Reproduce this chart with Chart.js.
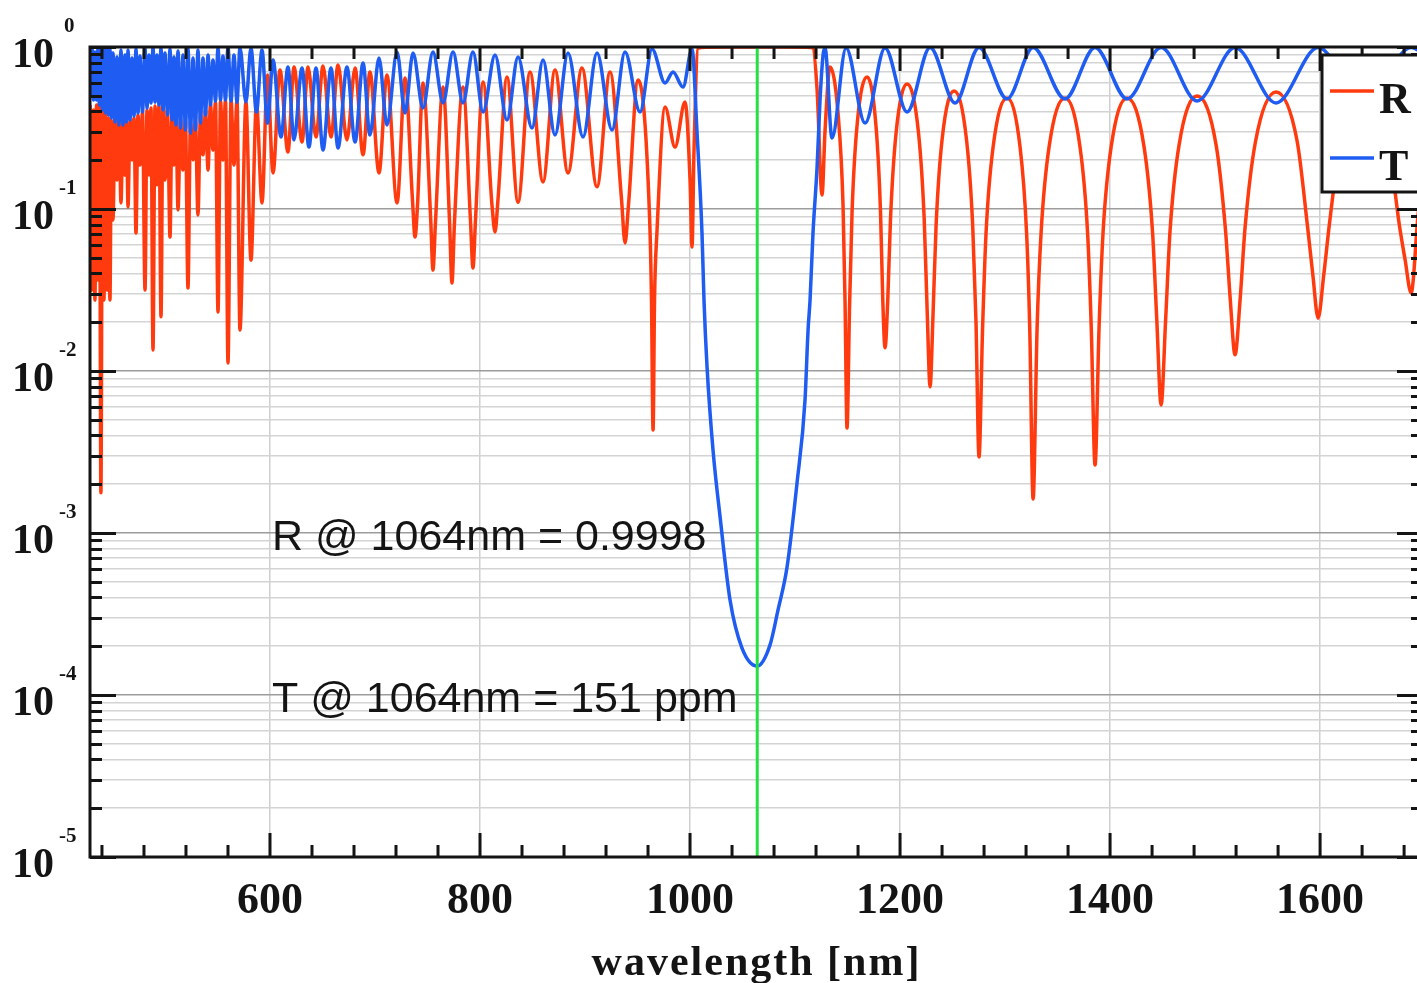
<!DOCTYPE html>
<html>
<head>
<meta charset="utf-8">
<script src="https://cdn.jsdelivr.net/npm/chart.js@4.4.0/dist/chart.umd.min.js"></script>
<style>
  html, body { margin: 0; padding: 0; background: #fff; overflow: hidden; }
</style>
</head>
<body>
<canvas id="chart" width="1440" height="983"></canvas>
<script>
// Reflectance R (wavelength in nm)
const rWavelength = [
  428.6, 430.5, 431.9, 433.3, 434.8, 436.2, 437.6, 439.0, 440.5, 441.9,
  443.3, 444.8, 446.2, 447.6, 449.0, 450.5, 452.4, 454.3, 456.2, 458.1,
  460.0, 461.9, 463.3, 464.8, 466.7, 468.6, 470.5, 472.4, 474.3, 476.2,
  478.6, 481.0, 482.9, 484.8, 486.7, 488.6, 490.5, 492.4, 494.3, 496.2,
  498.1, 500.0, 502.4, 504.8, 506.7, 508.6, 510.5, 512.4, 514.8, 517.1,
  519.5, 521.9, 524.3, 526.7, 529.0, 531.4, 533.8, 536.2, 538.6, 541.0,
  543.3, 545.7, 548.1, 550.5, 552.9, 555.2, 557.6, 560.0, 562.9, 565.7,
  568.6, 571.4, 577.1, 581.9, 587.1, 592.4, 597.6, 602.9, 609.5, 617.1,
  622.9, 630.5, 636.2, 643.8, 650.5, 658.1, 664.8, 673.3, 681.0, 688.6,
  695.2, 703.8, 711.4, 721.0, 728.6, 735.7, 738.1, 740.5, 745.7, 753.0,
  755.2, 757.6, 764.8, 771.0, 773.3, 775.7, 783.8, 790.9, 793.3, 795.7,
  802.9, 811.4, 814.3, 817.1, 825.7, 836.2, 847.6, 860.0, 871.4, 883.8,
  897.1, 911.4, 923.8, 934.8, 938.1, 941.4, 950.5, 961.4, 963.3, 964.8,
  966.2, 968.6, 976.2, 985.7, 995.2, 1000.0, 1001.9, 1003.8, 1007.6, 1015.0,
  1064.0, 1112.0, 1117.1, 1121.0, 1125.7, 1128.6, 1133.3, 1141.0, 1145.7, 1147.6,
  1149.5, 1151.9, 1154.3, 1159.0, 1168.6, 1177.1, 1181.4, 1183.5, 1185.7, 1188.3,
  1190.9, 1196.2, 1206.7, 1217.6, 1223.0, 1225.8, 1228.6, 1231.4, 1234.3, 1240.0,
  1251.4, 1263.3, 1269.2, 1272.3, 1275.2, 1278.6, 1281.9, 1288.6, 1301.9, 1314.3,
  1320.5, 1323.5, 1326.7, 1330.5, 1334.3, 1341.9, 1357.1, 1371.4, 1378.6, 1382.1,
  1385.7, 1389.5, 1393.3, 1401.0, 1416.2, 1432.4, 1440.5, 1444.5, 1448.6, 1452.9,
  1457.1, 1465.7, 1482.9, 1501.0, 1510.0, 1514.5, 1519.0, 1523.8, 1528.6, 1538.6,
  1558.1, 1578.1, 1588.1, 1593.1, 1598.1, 1603.5, 1609.0, 1620.0, 1641.9, 1664.3,
  1675.2, 1681.0, 1686.7, 1693.3, 1698.0
];
const rValue = [
  0.438, 0.0316, 0.409, 0.0274, 0.438, 0.0365, 0.451, 0.00177, 0.438, 0.0274,
  0.397, 0.0316, 0.365, 0.0274, 0.354, 0.0855, 0.354, 0.151, 0.344, 0.109,
  0.344, 0.162, 0.344, 0.103, 0.354, 0.201, 0.365, 0.0711, 0.380, 0.187,
  0.397, 0.0316, 0.409, 0.162, 0.420, 0.0135, 0.432, 0.141, 0.438, 0.0216,
  0.432, 0.151, 0.409, 0.0671, 0.391, 0.187, 0.375, 0.0986, 0.365, 0.174,
  0.354, 0.0325, 0.344, 0.201, 0.354, 0.0918, 0.380, 0.216, 0.409, 0.174,
  0.445, 0.231, 0.457, 0.0231, 0.464, 0.201, 0.471, 0.0112, 0.471, 0.187,
  0.471, 0.0179, 0.458, 0.0484, 0.451, 0.109, 0.672, 0.167, 0.721, 0.225,
  0.753, 0.259, 0.753, 0.278, 0.764, 0.278, 0.774, 0.267, 0.742, 0.216,
  0.701, 0.167, 0.672, 0.109, 0.644, 0.114, 0.0671, 0.106, 0.599, 0.0880,
  0.0420, 0.0832, 0.566, 0.0832, 0.0349, 0.0832, 0.566, 0.0855, 0.0432, 0.0855,
  0.608, 0.106, 0.0721, 0.114, 0.653, 0.110, 0.701, 0.147, 0.721, 0.167,
  0.742, 0.137, 0.701, 0.114, 0.0617, 0.106, 0.626, 0.0918, 0.0274, 0.00432,
  0.0274, 0.0741, 0.426, 0.241, 0.457, 0.151, 0.0582, 0.231, 0.986, 0.998,
  0.9998, 0.998, 0.986, 0.543, 0.122, 0.307, 0.753, 0.386, 0.106, 0.0274,
  0.00445, 0.0248, 0.0958, 0.325, 0.653, 0.325, 0.0958, 0.0282, 0.0139, 0.0274,
  0.0867, 0.294, 0.591, 0.294, 0.0867, 0.0238, 0.0080, 0.0222, 0.0785, 0.267,
  0.535, 0.267, 0.0785, 0.0204, 0.00295, 0.0184, 0.0711, 0.241, 0.485, 0.241,
  0.0711, 0.0184, 0.00162, 0.0184, 0.0711, 0.241, 0.485, 0.241, 0.0711, 0.0184,
  0.00263, 0.0184, 0.0711, 0.241, 0.485, 0.241, 0.0711, 0.0206, 0.00617, 0.0206,
  0.0731, 0.248, 0.498, 0.248, 0.0731, 0.0274, 0.0126, 0.0274, 0.0774, 0.263,
  0.527, 0.263, 0.0774, 0.0392, 0.0212, 0.0392, 0.0820, 0.278, 0.558, 0.278,
  0.0820, 0.0484, 0.0303, 0.0918, 0.16
];

// Transmittance T
const tWavelength = [
  428.6, 430.5, 431.9, 433.3, 434.8, 436.2, 437.6, 439.0, 440.5, 441.9,
  443.3, 444.8, 446.2, 447.6, 449.0, 450.5, 452.4, 454.3, 456.2, 458.1,
  460.0, 461.9, 463.3, 464.8, 466.7, 468.6, 470.5, 472.4, 474.3, 476.2,
  478.6, 481.0, 482.9, 484.8, 486.7, 488.6, 490.5, 492.4, 494.3, 496.2,
  498.1, 500.0, 502.4, 504.8, 506.7, 508.6, 510.5, 512.4, 514.8, 517.1,
  519.5, 521.9, 524.3, 526.7, 529.0, 531.4, 533.8, 536.2, 538.6, 541.0,
  543.3, 545.7, 548.1, 550.5, 552.9, 555.2, 557.6, 560.0, 562.9, 565.7,
  568.6, 571.4, 577.1, 581.9, 587.1, 592.4, 597.6, 602.9, 610.5, 617.1,
  622.9, 630.5, 637.1, 643.8, 650.5, 658.1, 664.8, 673.3, 681.0, 688.6,
  695.2, 703.8, 711.4, 721.0, 728.6, 736.2, 745.7, 755.2, 764.8, 774.3,
  783.8, 793.3, 802.9, 814.3, 825.7, 836.2, 849.5, 860.0, 871.4, 883.8,
  898.1, 911.4, 925.7, 938.1, 952.4, 963.8, 976.2, 983.8, 993.3, 1001.9,
  1006.7, 1011.4, 1013.3, 1016.2, 1021.9, 1028.6, 1038.1, 1049.5, 1064.0, 1076.2,
  1083.8, 1092.4, 1101.9, 1109.5, 1112.4, 1114.3, 1117.1, 1121.0, 1123.8, 1126.7,
  1128.6, 1135.2, 1148.6, 1166.7, 1185.7, 1206.7, 1228.6, 1252.4, 1275.2, 1301.9,
  1326.7, 1357.1, 1385.7, 1416.2, 1448.6, 1482.9, 1519.0, 1558.1, 1598.1, 1641.9,
  1686.7, 1698.0
];
const tValue = [
  0.491, 0.986, 0.471, 0.931, 0.471, 0.986, 0.438, 0.998, 0.409, 0.958,
  0.391, 0.986, 0.380, 0.972, 0.365, 0.918, 0.344, 0.868, 0.330, 0.958,
  0.330, 0.893, 0.344, 0.958, 0.354, 0.855, 0.375, 0.972, 0.391, 0.880,
  0.397, 0.986, 0.420, 0.893, 0.451, 0.998, 0.457, 0.893, 0.438, 0.986,
  0.409, 0.918, 0.380, 0.972, 0.354, 0.868, 0.330, 0.945, 0.316, 0.893,
  0.307, 0.986, 0.294, 0.855, 0.307, 0.958, 0.339, 0.855, 0.380, 0.893,
  0.438, 0.831, 0.464, 0.986, 0.471, 0.880, 0.471, 0.998, 0.464, 0.893,
  0.457, 0.986, 0.457, 0.986, 0.397, 0.958, 0.339, 0.831, 0.278, 0.753,
  0.267, 0.742, 0.241, 0.742, 0.231, 0.742, 0.238, 0.753, 0.259, 0.797,
  0.286, 0.855, 0.330, 0.931, 0.391, 0.918, 0.420, 0.931, 0.451, 0.931,
  0.451, 0.931, 0.397, 0.893, 0.354, 0.868, 0.316, 0.831, 0.286, 0.918,
  0.278, 0.918, 0.307, 0.931, 0.397, 0.972, 0.599, 0.701, 0.566, 0.972,
  0.294, 0.0711, 0.0274, 0.0106, 0.00325, 0.00126, 0.000386, 0.000195, 0.000151, 0.000204,
  0.000335, 0.000617, 0.00204, 0.00662, 0.0179, 0.0274, 0.0711, 0.182, 0.471, 0.893,
  0.986, 0.274, 0.986, 0.339, 0.986, 0.397, 0.993, 0.451, 0.993, 0.478,
  0.993, 0.478, 0.993, 0.478, 0.993, 0.464, 0.993, 0.451, 0.993, 0.445,
  0.993, 0.92
];

const markerWavelength = 1064;
const xMajorTicks = [600, 800, 1000, 1200, 1400, 1600];
const yExponents = [0, -1, -2, -3, -4, -5];
const legendLabels = ['R', 'T'];
const noteLabels = ['R @ 1064nm = 0.9998', 'T @ 1064nm = 151 ppm'];
const noteLevels = [1e-3, 1e-4];
const noteStart = 600;

const RED = '#ff3a0e';
const BLUE = '#1f5cf2';
const GREEN = '#24e040';
const INK = '#141414';
const SERIF = '"Liberation Serif", "DejaVu Serif", serif';
const SANS = '"Liberation Sans", Arial, sans-serif';

const toPoints = (xs, ys) => xs.map((x, i) => ({ x, y: ys[i] }));

// frame, inward ticks, legend box and text labels
const decorPlugin = {
  id: 'decor',
  afterDatasetsDraw(chart) {
    const { ctx, chartArea: a, scales } = chart;
    const xs = scales.x;
    const ys = scales.y;
    ctx.save();

    ctx.strokeStyle = INK;
    ctx.lineWidth = 3;
    ctx.beginPath();
    for (let v = 440; v <= 1680; v += 40) {
      const px = xs.getPixelForValue(v);
      const len = xMajorTicks.includes(v) ? 24 : 12;
      ctx.moveTo(px, a.bottom);
      ctx.lineTo(px, a.bottom - len);
      ctx.moveTo(px, a.top);
      ctx.lineTo(px, a.top + len);
    }
    ys.ticks.forEach((t) => {
      const py = Math.round(ys.getPixelForValue(t.value)) + 0.5;
      const len = t.major ? 26 : 12;
      ctx.moveTo(a.left, py);
      ctx.lineTo(a.left + len, py);
      ctx.moveTo(a.right, py);
      ctx.lineTo(a.right - len, py);
    });
    ctx.stroke();
    ctx.strokeRect(a.left, a.top, a.right - a.left, a.bottom - a.top);

    // legend
    const lx = 1322, ly = 55, lw = 98, lh = 137;
    ctx.fillStyle = '#fff';
    ctx.fillRect(lx, ly, lw, lh);
    ctx.strokeRect(lx, ly, lw, lh);
    const legendColors = [RED, BLUE];
    const legendY = [91, 158];
    legendLabels.forEach((label, i) => {
      ctx.strokeStyle = legendColors[i];
      ctx.lineWidth = 3.5;
      ctx.beginPath();
      ctx.moveTo(lx + 8, legendY[i]);
      ctx.lineTo(lx + 52, legendY[i]);
      ctx.stroke();
      ctx.fillStyle = INK;
      ctx.font = 'bold 44px ' + SERIF;
      ctx.textAlign = 'left';
      ctx.textBaseline = 'alphabetic';
      ctx.fillText(label, lx + 57, legendY[i] + 22);
    });

    // notes
    ctx.fillStyle = INK;
    ctx.font = '43px ' + SANS;
    ctx.textAlign = 'left';
    ctx.textBaseline = 'alphabetic';
    noteLabels.forEach((txt, i) => {
      ctx.fillText(txt, xs.getPixelForValue(noteStart) + 2, ys.getPixelForValue(noteLevels[i]) + 17);
    });
    ctx.restore();
  },
  afterDraw(chart) {
    const { ctx, chartArea: a, scales } = chart;
    const ys = scales.y;
    ctx.save();
    ctx.fillStyle = INK;
    ctx.textBaseline = 'alphabetic';
    yExponents.forEach((e) => {
      const py = ys.getPixelForValue(Math.pow(10, e));
      ctx.font = 'bold 42px ' + SERIF;
      ctx.textAlign = 'right';
      ctx.fillText('10', 54, py + 20);
      ctx.font = 'bold 21px ' + SERIF;
      ctx.textAlign = 'left';
      ctx.fillText(String(e), e === 0 ? 64 : 59, py - 15);
    });
    ctx.font = 'bold 42px ' + SERIF;
    ctx.letterSpacing = '2px';
    ctx.textAlign = 'center';
    ctx.fillText('wavelength [nm]', (a.left + a.right) / 2, 975);
    ctx.restore();
  },
};

new Chart(document.getElementById('chart'), {
  type: 'line',
  data: {
    datasets: [
      {
        label: 'marker',
        data: [{ x: markerWavelength, y: 1e-5 }, { x: markerWavelength, y: 1 }],
        borderColor: GREEN,
        borderWidth: 3,
        pointRadius: 0,
        order: 0,
      },
      {
        label: 'T',
        data: toPoints(tWavelength, tValue),
        borderColor: BLUE,
        borderWidth: 3.5,
        pointRadius: 0,
        cubicInterpolationMode: 'monotone',
        order: 1,
      },
      {
        label: 'R',
        data: toPoints(rWavelength, rValue),
        borderColor: RED,
        borderWidth: 3.5,
        pointRadius: 0,
        cubicInterpolationMode: 'monotone',
        order: 2,
      },
    ],
  },
  options: {
    responsive: false,
    animation: false,
    events: [],
    layout: { padding: { top: 47, right: 17, left: 0, bottom: 0 } },
    plugins: {
      legend: { display: false },
      tooltip: { enabled: false },
    },
    scales: {
      x: {
        type: 'linear',
        min: 428.6,
        max: 1698,
        afterBuildTicks: (scale) => {
          scale.ticks = xMajorTicks.map((v) => ({ value: v }));
        },
        afterFit: (scale) => { scale.height = 126; },
        ticks: {
          color: INK,
          font: { family: SERIF, size: 44, weight: 'bold' },
          padding: 18,
          maxRotation: 0,
          callback: (v) => String(v),
        },
        grid: { color: '#cfcfcf', lineWidth: 1.5, drawTicks: false },
        border: { display: false },
      },
      y: {
        type: 'logarithmic',
        min: 1e-5,
        max: 1,
        afterBuildTicks: (scale) => {
          const ticks = [];
          for (let e = -5; e < 0; e++) {
            for (let k = 1; k < 10; k++) {
              ticks.push({ value: k * Math.pow(10, e), major: k === 1 });
            }
          }
          ticks.push({ value: 1, major: true });
          scale.ticks = ticks;
        },
        afterFit: (scale) => { scale.width = 90; },
        ticks: { display: false },
        grid: {
          color: (c) => (c.tick && c.tick.major ? '#9c9c9c' : '#d4d4d4'),
          lineWidth: 1.5,
          drawTicks: false,
        },
        border: { display: false },
      },
    },
  },
  plugins: [decorPlugin],
});
</script>
</body>
</html>
